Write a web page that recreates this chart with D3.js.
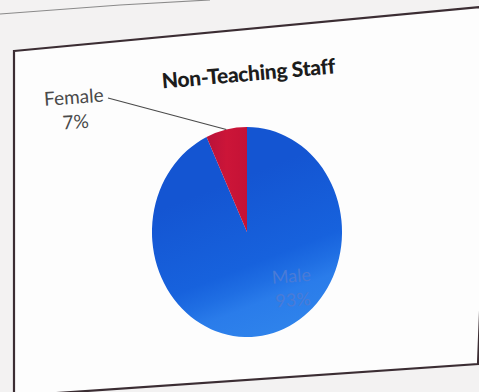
<!DOCTYPE html>
<html>
<head>
<meta charset="utf-8">
<script src="https://cdn.jsdelivr.net/npm/d3@7/dist/d3.min.js"></script>
<style>
  html, body { margin: 0; padding: 0; background: #f3f2f2; }
  svg { display: block; }
</style>
</head>
<body>
<script>
// Non-teaching staff by gender (percent)
const categories = ["Male", "Female"];
const values = [93, 7];
const title = "Non-Teaching Staff";

const W = 479, H = 392;
const svg = d3.select("body").append("svg").attr("width", W).attr("height", H);

const defs = svg.append("defs");
const blueGrad = defs.append("linearGradient").attr("id", "blueFill")
  .attr("x1", 0.3).attr("y1", 0.3).attr("x2", 0.55).attr("y2", 1);
[[0, "#1455d2"], [0.55, "#1762dd"], [0.68, "#1f6ee3"], [0.8, "#2a7cea"], [1, "#2e82eb"]]
  .forEach(([o, c]) => blueGrad.append("stop").attr("offset", o).attr("stop-color", c));
const redGrad = defs.append("linearGradient").attr("id", "redFill")
  .attr("x1", 0).attr("y1", 0).attr("x2", 1).attr("y2", 0);
[[0, "#b8123a"], [0.5, "#cc1538"], [1, "#c41236"]]
  .forEach(([o, c]) => redGrad.append("stop").attr("offset", o).attr("stop-color", c));

// faint page edge at the top
svg.append("path")
  .attr("d", "M0,14 L120,5 L210,0")
  .attr("fill", "none").attr("stroke", "#8a8a8a").attr("stroke-width", 1.2);

// chart area frame
svg.append("path")
  .attr("d", "M14,51 L492,6 L478,364 L14,396 Z")
  .attr("fill", "#fdfdfd")
  .attr("stroke", "#3b2d33").attr("stroke-width", 2.2);

// title
svg.append("text")
  .attr("x", 0).attr("y", 0)
  .attr("transform", "translate(249,81) rotate(-5)")
  .attr("text-anchor", "middle")
  .attr("font-family", "Lato, 'Open Sans', sans-serif")
  .attr("font-weight", "900")
  .attr("font-size", 21)
  .attr("letter-spacing", -0.3)
  .attr("fill", "#1c1c1c")
  .text(title);

// pie
const colors = d3.scaleOrdinal().domain(categories).range(["url(#blueFill)", "url(#redFill)"]);
const pie = d3.pie().sort(null).value(d => d.value);
const arcs = pie(categories.map((c, i) => ({ name: c, value: values[i] })));
const R = 105;
const arc = d3.arc().innerRadius(0).outerRadius(R);

const pieG = svg.append("g").attr("transform", "translate(247,232) scale(0.905,1)");
pieG.selectAll("path").data(arcs).join("path")
  .attr("d", arc)
  .attr("fill", d => colors(d.data.name));

// Female label with leader line
const fem = arcs[1];
const femMid = (fem.startAngle + fem.endAngle) / 2;
const femEdge = [247 + 0.905 * R * Math.sin(femMid), 232 - R * Math.cos(femMid)];
svg.append("path")
  .attr("d", `M108,98 L${femEdge[0]},${femEdge[1]}`)
  .attr("fill", "none").attr("stroke", "#4a4a4a").attr("stroke-width", 1.2);

const fmt = v => v + "%";
const lab = svg.append("text")
  .attr("transform", "translate(67,0) rotate(-4)")
  .attr("text-anchor", "middle")
  .attr("font-family", "Lato, 'Open Sans', sans-serif")
  .attr("font-size", 19)
  .attr("fill", "#4a4a4a");
lab.append("tspan").attr("x", 0).attr("y", 104).text(fem.data.name);
lab.append("tspan").attr("x", 0).attr("y", 129).text(fmt(fem.data.value));

// Male label inside slice
const male = arcs[0];
const ml = svg.append("text")
  .attr("transform", "translate(272,0) rotate(-4)")
  .attr("text-anchor", "middle")
  .attr("font-family", "Lato, 'Open Sans', sans-serif")
  .attr("font-size", 18)
  .attr("fill", "#4a7bd6");
ml.append("tspan").attr("x", 0).attr("y", 283).text(male.data.name);
ml.append("tspan").attr("x", 0).attr("y", 307).text(fmt(male.data.value));
</script>
</body>
</html>
